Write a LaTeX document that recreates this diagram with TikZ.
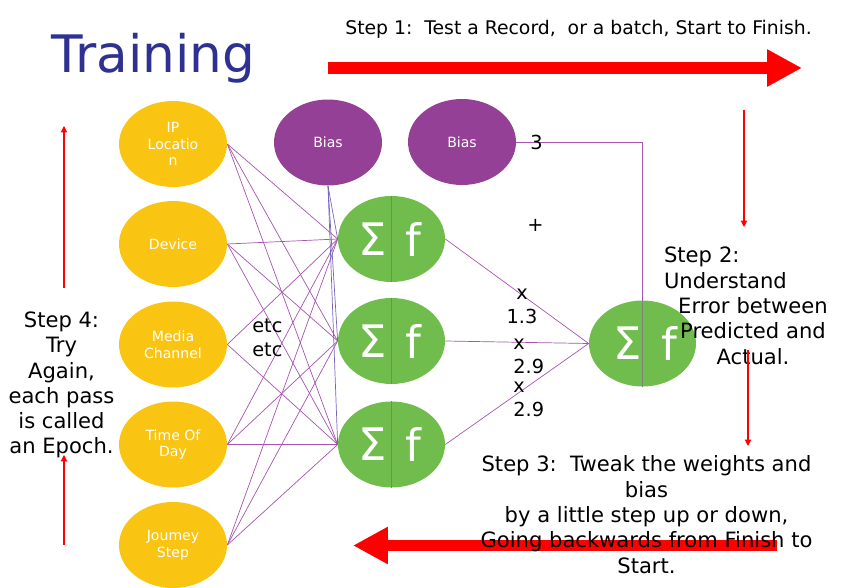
\documentclass[tikz,border=0pt]{standalone}
\usepackage{fontspec}
\setmainfont{DejaVu Sans}
\usetikzlibrary{arrows.meta,shapes.geometric}
\definecolor{gold}{RGB}{249,196,18}
\definecolor{plum}{RGB}{147,64,150}
\definecolor{leaf}{RGB}{112,188,76}
\definecolor{navy}{RGB}{46,49,146}
\definecolor{wirecol}{RGB}{165,85,175}
\definecolor{biascol}{RGB}{120,100,185}

\begin{document}
\begin{tikzpicture}[x=0.02cm,y=-0.02cm,>=Stealth,
  input/.style={ellipse,fill=gold,minimum width=2.16cm,minimum height=1.72cm,
    inner sep=0pt,text=white,align=center,font=\fontsize{8}{9.5}\selectfont},
  biasnode/.style={input,fill=plum},
  neuron/.style={ellipse,fill=leaf,minimum width=2.14cm,minimum height=1.72cm,inner sep=0pt},
  glyph/.style={text=white,inner sep=0pt,font=\fontsize{25.5}{30}\selectfont},
  divider/.style={gray,line width=1.1pt},
  link/.style={wirecol,line width=0.4pt},
  biaslink/.style={biascol,line width=0.4pt},
  bigarrow/.style={red,line width=6.4pt,-{Triangle[length=19.9pt,width=19.9pt]}},
  thinarrow/.style={red,line width=0.6pt,-{Triangle[length=3.6pt,width=3.6pt]}},
  steptext/.style={inner sep=0pt,align=center,font=\fontsize{12}{14.4}\selectfont},
  weight/.style={inner sep=0pt,font=\fontsize{11}{14.2}\selectfont}]
\useasboundingbox (0,0) rectangle (850,588);
% title and step 1
\node[anchor=base west,inner sep=0pt,text=navy,font=\fontsize{29.4}{35}\selectfont] (title) at (51,73) {Training};
\node[anchor=base west,inner sep=0pt,font=\fontsize{10.7}{12.8}\selectfont] (step1) at (345,35)
  {Step 1:\ \ Test a Record,\ \ or a batch, Start to Finish.};
\coordinate (fwd1) at (328,68);
\coordinate (fwd2) at (802,68);
\draw[bigarrow] (fwd1) -- (fwd2);
% inputs
\node[input] (in1) at (173,144) {IP\\Locatio\\n};
\node[input] (in2) at (173,244) {Device};
\node[input] (in3) at (173,344.5) {Media\\Channel};
\node[input] (in4) at (173,444.5) {Time Of\\Day};
\node[input] (in5) at (173,545) {Joumey\\Step};
% biases
\node[biasnode] (b1) at (328,142.5) {Bias};
\node[biasnode] (b2) at (462,142) {Bias};
% neurons
\node[neuron] (h1) at (391.5,239) {};
\node[neuron] (h2) at (391.5,341) {};
\node[neuron] (h3) at (391.5,444.5) {};
\node[neuron] (out) at (642.5,343.5) {};
% wires
\foreach \i in {1,...,5}{
  \foreach \h in {1,2,3}{
    \ifnum\i\h=32\else\draw[link] (in\i.east) -- (h\h.west);\fi
  }
}
\foreach \h in {1,2,3}{
  \draw[biaslink] (b1.south) -- (h\h.west);
  \draw[link] (h\h.east) -- (out.west);
}
\draw[link] (b2.east) -| (out.north);
% sigma and f
\foreach \n in {h1,h2,h3}{
  \draw[divider] (\n.north) -- (\n.south);
  \node[glyph] (\n s) at ([xshift=-0.38cm]\n.center) {Σ};
  \node[glyph] (\n f) at ([xshift=0.44cm]\n.center) {f};
}
\draw[divider] (out.north) -- (out.south);
\node[glyph] (outs) at ([xshift=-0.29cm]out.center) {Σ};
\node[glyph] (outf) at ([xshift=0.54cm]out.center) {f};
% weights
\node[weight,anchor=base west] (w0) at (530,150) {3};
\node[weight] (plus) at (535.5,225) {+};
\node[weight,align=center,anchor=base] (w1) at (522,324) {x\\1.3};
\node[weight,align=left,anchor=base west] (w2) at (513,374) {x\\2.9};
\node[weight,align=left,anchor=base west] (w3) at (513,417) {x\\2.9};
\node[weight,align=left,anchor=base west] (etc) at (252,357) {etc\\etc};
% step 2
\coordinate (dn1) at (744,110);
\coordinate (dn2) at (744,227);
\draw[thinarrow] (dn1) -- (dn2);
\node[steptext,anchor=base,text width=3.56cm] (step2) at (753,263)
  {\makebox[\linewidth][l]{Step 2:}\\ \makebox[\linewidth][l]{Understand}\\ Error between\\ Predicted and\\ Actual.};
\coordinate (dn3) at (748,350);
\coordinate (dn4) at (748,446);
\draw[thinarrow] (dn3) -- (dn4);
% step 3
\coordinate (back1) at (777,545.5);
\coordinate (back2) at (353,545.5);
\draw[bigarrow] (back1) -- (back2);
\node[steptext,anchor=base] (step3) at (646.5,573)
  {Step 3:\ \ Tweak the weights and\\ bias\\ by a little step up or down,\\ Going backwards from Finish to\\ Start.};
% step 4
\coordinate (up1) at (64,545);
\coordinate (up2) at (64,455);
\draw[thinarrow] (up1) -- (up2);
\node[steptext,anchor=base] (step4) at (61.5,454)
  {Step 4:\\ Try\\ Again,\\ each pass\\ is called\\ an Epoch.};
\coordinate (up3) at (64,288);
\coordinate (up4) at (64,126);
\draw[thinarrow] (up3) -- (up4);
\end{tikzpicture}
\end{document}
